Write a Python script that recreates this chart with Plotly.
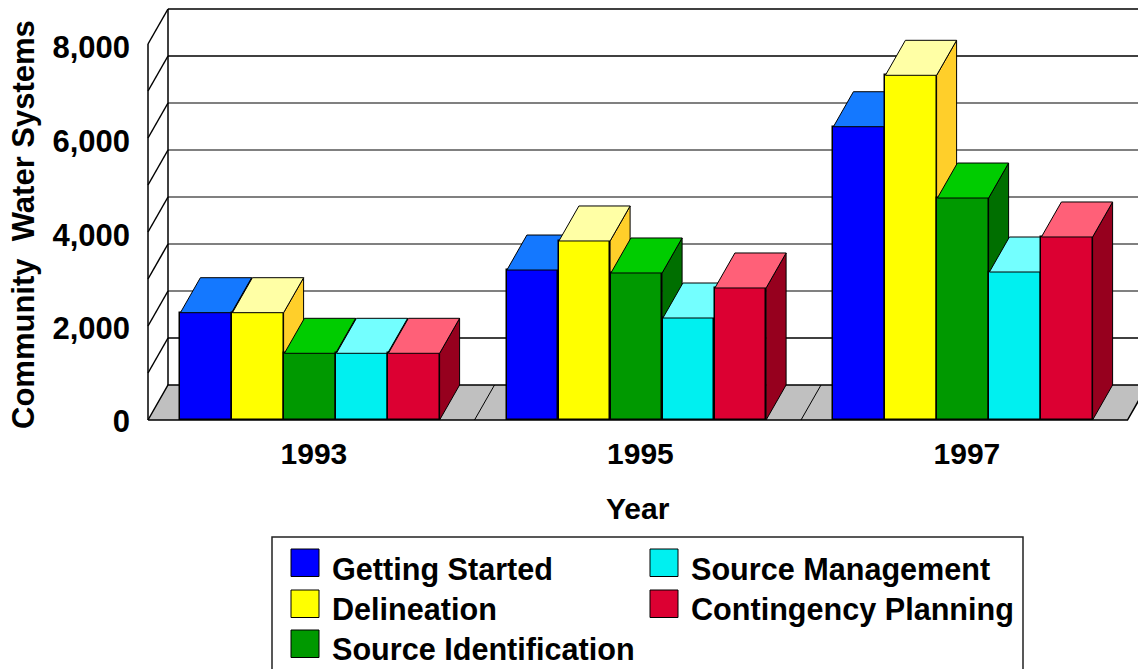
import plotly.graph_objects as go

years = ["1993", "1995", "1997"]
series_names = ["Getting Started", "Delineation", "Source Identification", "Source Management", "Contingency Planning"]
getting_started = [2283, 3191, 6240]
delineation = [2283, 3809, 7334]
source_identification = [1419, 3128, 4723]
source_management = [1419, 2170, 3149]
contingency_planning = [1419, 2809, 3894]
series_values = [getting_started, delineation, source_identification, source_management, contingency_planning]
y_ticks = [0, 2000, 4000, 6000, 8000]
y_tick_labels = ["0", "2,000", "4,000", "6,000", "8,000"]
grid_levels = [1000, 2000, 3000, 4000, 5000, 6000, 7000, 8000]
gray_levels = [2000, 3000, 4000, 5000, 6000]

front_colors = ["#0000FF", "#FFFF00", "#009900", "#00F0F0", "#DC0032"]
top_colors = ["#1478FF", "#FFFFA5", "#00CC00", "#73FFFF", "#FF6078"]
side_colors = ["#0000A0", "#FFCF2A", "#006F00", "#009999", "#96001E"]

W, H = 1138, 669
PLOT_L, PLOT_R, PLOT_T, PLOT_B = 146, 1138, 0, 425
CAT_PX = 326.5           # pixels per category
PX_PER_UNIT = 47 / 1000  # pixels per value unit
X0_PX = 310.0            # pixel of the first group's centre


def xd(px_):
    return (px_ - X0_PX) / CAT_PX


XR = [xd(PLOT_L), xd(PLOT_R)]
YR = [(420 - PLOT_B) / PX_PER_UNIT, (420 - PLOT_T) / PX_PER_UNIT]
DX = 20 / CAT_PX
DY = 35 / PX_PER_UNIT
PITCH = 52.0 / CAT_PX
BAR_W = 51.2 / CAT_PX
FLOOR_L = xd(148)
INK = "#000000"


def px(x):
    return (x - PLOT_L) / (PLOT_R - PLOT_L)


def py(y):
    return (PLOT_B - y) / (PLOT_B - PLOT_T)


fig = go.Figure()

# floor
fx0, fx1 = FLOOR_L, FLOOR_L + 3
fig.add_trace(go.Scatter(x=[fx0, fx0 + DX, fx1 + DX, fx1, fx0], y=[0, DY, DY, 0, 0], mode="lines",
                         fill="toself", fillcolor="#C0C0C0", line=dict(color=INK, width=1.5),
                         hoverinfo="skip", showlegend=False))
# category dividers on floor
div_x, div_y = [], []
for k in (1, 2):
    div_x += [fx0 + k, fx0 + k + DX, None]
    div_y += [0, DY, None]
fig.add_trace(go.Scatter(x=div_x, y=div_y, mode="lines", line=dict(color=INK, width=1),
                         hoverinfo="skip", showlegend=False))

# back wall lines: the reference shows some grey and some black
gx, gy, bx, by = [], [], [], []
for v in grid_levels:
    tx_, ty_ = (gx, gy) if v in gray_levels else (bx, by)
    tx_ += [FLOOR_L + DX, XR[1] + 0.2, None]
    ty_ += [v + DY, v + DY, None]
fig.add_trace(go.Scatter(x=gx, y=gy, mode="lines", line=dict(color="#808080", width=2),
                         hoverinfo="skip", showlegend=False))
fig.add_trace(go.Scatter(x=bx, y=by, mode="lines", line=dict(color=INK, width=1.5),
                         hoverinfo="skip", showlegend=False))

# left wall: diagonals and two verticals
wx, wy = [], []
for v in grid_levels:
    wx += [FLOOR_L, FLOOR_L + DX, None]
    wy += [v, v + DY, None]
wx += [FLOOR_L, FLOOR_L, None, FLOOR_L + DX, FLOOR_L + DX]
wy += [0, 8000, None, DY, 8000 + DY]
fig.add_trace(go.Scatter(x=wx, y=wy, mode="lines", line=dict(color=INK, width=1.5),
                         hoverinfo="skip", showlegend=False))

# bars, one overlay per series so they paint from left to right
for j, (name, vals) in enumerate(zip(series_names, series_values)):
    xa, ya = f"x{j + 2}", f"y{j + 2}"
    centres = [i + (j - 2) * PITCH for i in range(len(years))]
    fig.add_trace(go.Bar(x=centres, y=vals, width=BAR_W, name=name, xaxis=xa, yaxis=ya,
                         marker=dict(color=front_colors[j], line=dict(color=INK, width=1.5)), showlegend=False))
    tx, ty, sx, sy = [], [], [], []
    for c, v in zip(centres, vals):
        l, r = c - BAR_W / 2, c + BAR_W / 2
        tx += [l, r, r + DX, l + DX, l, None]
        ty += [v, v, v + DY, v + DY, v, None]
        sx += [r, r + DX, r + DX, r, r, None]
        sy += [0, DY, v + DY, v, 0, None]
    fig.add_trace(go.Scatter(x=sx, y=sy, mode="lines", fill="toself", fillcolor=side_colors[j],
                             line=dict(color=INK, width=1), xaxis=xa, yaxis=ya, hoverinfo="skip", showlegend=False))
    fig.add_trace(go.Scatter(x=tx, y=ty, mode="lines", fill="toself", fillcolor=top_colors[j],
                             line=dict(color=INK, width=1), xaxis=xa, yaxis=ya, hoverinfo="skip", showlegend=False))

FONT = "Liberation Sans, Arial, sans-serif"
label_nudge_px = [1, 2, 3, 3, 3]  # tick labels sit a little below their levels in the reference
layout = dict(
    width=W, height=H, margin=dict(l=PLOT_L, r=W - PLOT_R, t=PLOT_T, b=H - PLOT_B, pad=0),
    paper_bgcolor="white", plot_bgcolor="white", barmode="overlay", bargap=0,
    xaxis=dict(range=XR, tickmode="array", tickvals=[0.012, 1.012, 2.012], ticktext=years, showgrid=False,
               zeroline=False, showline=False, ticks="", ticklabelstandoff=8,
               tickfont=dict(family=FONT, size=30, color="black", weight="bold")),
    yaxis=dict(range=YR, tickmode="array", ticktext=y_tick_labels, showgrid=False,
               tickvals=[v - n / PX_PER_UNIT for v, n in zip(y_ticks, label_nudge_px)],
               zeroline=False, showline=False, ticks="", ticklabelstandoff=15,
               tickfont=dict(family=FONT, size=31, color="black", weight="bold")),
)
for j in range(len(series_names)):
    layout[f"xaxis{j + 2}"] = dict(range=XR, overlaying="x", visible=False)
    layout[f"yaxis{j + 2}"] = dict(range=YR, overlaying="y", visible=False)
fig.update_layout(**layout)


def ann(x, y, text, anchor="center", size=30, angle=0):
    fig.add_annotation(xref="paper", yref="paper", x=px(x), y=py(y), text=text, showarrow=False, textangle=angle,
                       xanchor=anchor, yanchor="middle",
                       font=dict(family=FONT, size=size, color="black", weight="bold"))


ann(638, 508.5, "Year")
ann(23, 225, "Community\u00a0\u00a0Water Systems", size=31, angle=-90)

# legend box and entries
fig.add_shape(type="rect", xref="paper", yref="paper", x0=px(272), x1=px(1023), y0=py(700), y1=py(537),
              line=dict(color="#222222", width=1.5), fillcolor="white")
legend_swatches = [(291, 549), (291, 590), (291, 630), (650, 549), (650, 590)]
legend_text = [(330, 569), (330, 609), (330, 649), (689, 569), (689, 609)]
for j, name in enumerate(series_names):
    lx, ly = legend_swatches[j]
    fig.add_shape(type="rect", xref="paper", yref="paper", x0=px(lx), x1=px(lx + 28), y0=py(ly + 27.5), y1=py(ly),
                  line=dict(color=INK, width=1), fillcolor=front_colors[j])
    ann(legend_text[j][0], legend_text[j][1], name, anchor="left", size=30.6)

fig.write_html("out.html", config={"displayModeBar": False},
               post_script="document.body.style.margin='0';document.body.style.overflow='hidden';")
